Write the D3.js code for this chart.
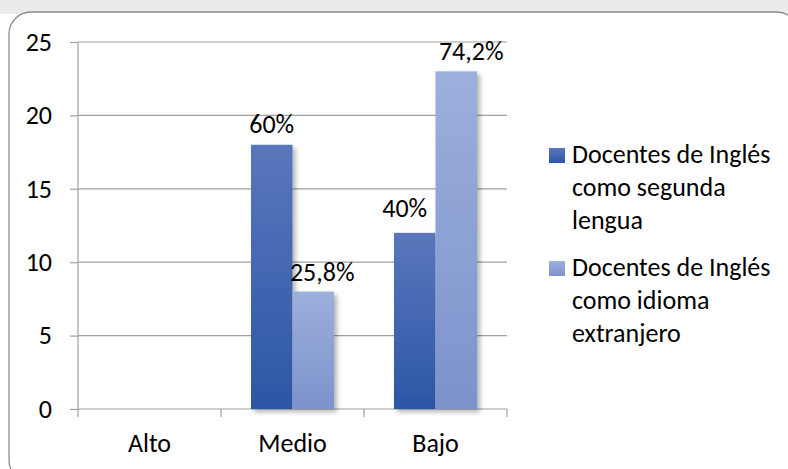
<!DOCTYPE html>
<html><head><meta charset="utf-8">
<script src="https://cdn.jsdelivr.net/npm/d3@7"></script>
<style>
html,body{margin:0;padding:0;background:#fff;}
text{font-family:Carlito,Calibri,Lato,"Open Sans",sans-serif;fill:#000;}
</style></head>
<body><svg id="c" width="788" height="469"></svg>
<script>
const categories = ["Alto", "Medio", "Bajo"];
const seriesNames = ["Docentes de Inglés como segunda lengua", "Docentes de Inglés como idioma extranjero"];
const segundaLengua = [0, 18, 12];
const idiomaExtranjero = [0, 8, 23];
const labelsSegunda = ["", "60%", "40%"];
const labelsExtranjero = ["", "25,8%", "74,2%"];
const yTicks = [0, 5, 10, 15, 20, 25];
const legendLines = [["Docentes de Inglés", "como segunda", "lengua"], ["Docentes de Inglés", "como idioma", "extranjero"]];

const FS = 26;
const svg = d3.select("#c");
const defs = svg.append("defs");
const g1 = defs.append("linearGradient").attr("id","g1").attr("x1",0).attr("y1",0).attr("x2",0).attr("y2",1);
g1.append("stop").attr("offset","0%").attr("stop-color","#5a77bb");
g1.append("stop").attr("offset","100%").attr("stop-color","#2c56a6");
const g2 = defs.append("linearGradient").attr("id","g2").attr("x1",0).attr("y1",0).attr("x2",0).attr("y2",1);
g2.append("stop").attr("offset","0%").attr("stop-color","#9bb0dc");
g2.append("stop").attr("offset","100%").attr("stop-color","#7d92cb");
const f = defs.append("filter").attr("id","sh").attr("x","-20%").attr("y","-20%").attr("width","150%").attr("height","150%");
f.append("feDropShadow").attr("dx",3).attr("dy",3).attr("stdDeviation",2.5).attr("flood-color","#000").attr("flood-opacity",0.3);

// background band
svg.append("rect").attr("x",0).attr("y",0).attr("width",788).attr("height",14).attr("fill","#ebebeb");
svg.append("rect").attr("x",9).attr("y",12).attr("width",790).attr("height",470).attr("rx",22)
  .attr("fill","#fff").attr("stroke","#8c8c8c").attr("stroke-width",1.3);

const pLeft = 78, pRight = 507, pTop = 42, pBottom = 409;
const x = d3.scaleBand().domain(categories).range([pLeft, pRight]).paddingInner(0).paddingOuter(0);
const y = d3.scaleLinear().domain([0, 25]).range([pBottom, pTop]);

// gridlines
svg.append("g").selectAll("line").data(yTicks.filter(d=>d>0)).join("line")
  .attr("x1", pLeft).attr("x2", pRight).attr("y1", d=>y(d)).attr("y2", d=>y(d))
  .attr("stroke","#a0a0a0").attr("stroke-width",1.2);

// y axis
const ya = svg.append("g").attr("transform",`translate(${pLeft},0)`)
  .call(d3.axisLeft(y).tickValues(yTicks).tickSize(8).tickPadding(18).tickFormat(d3.format("d")));
ya.select(".domain").attr("stroke","#a0a0a0").attr("stroke-width",1.2).attr("d",`M0,${pBottom}V${pTop}`);
ya.selectAll(".tick line").attr("stroke","#a0a0a0").attr("stroke-width",1.2);
ya.selectAll(".tick text").attr("font-size",FS).attr("font-family","Carlito,Calibri,Lato,sans-serif").attr("fill","#000");

// x axis
const xa = svg.append("g").attr("transform",`translate(0,${pBottom})`)
  .call(d3.axisBottom(x).tickSize(0).tickPadding(25));
xa.select(".domain").attr("stroke","#a0a0a0").attr("stroke-width",1.2).attr("d",`M${pLeft},0H${pRight}`);
xa.selectAll(".tick text").attr("font-size",FS).attr("font-family","Carlito,Calibri,Lato,sans-serif").attr("fill","#000");
svg.append("g").selectAll("line").data(categories.map(c=>x(c)).concat([pRight])).join("line")
  .attr("x1",d=>d).attr("x2",d=>d).attr("y1",pBottom).attr("y2",pBottom+8)
  .attr("stroke","#a0a0a0").attr("stroke-width",1.2);

// bars
const bw = 41.5, gap = (x.bandwidth() - 2*bw)/2;
const series = [segundaLengua, idiomaExtranjero];
const grads = ["url(#g1)","url(#g2)"];
const labels = [labelsSegunda, labelsExtranjero];
const nudge = [[[0,0],[0,-12],[-10,-16]],[[0,0],[9,-11],[15,-11]]];
series.forEach((s, si) => {
  const dat = s.map((v,i)=>({v,c:categories[i],i})).filter(d=>d.v>0);
  svg.append("g").selectAll("rect").data(dat).join("rect")
    .attr("x", d=>x(d.c)+gap+si*bw).attr("width", bw)
    .attr("y", d=>y(d.v)).attr("height", d=>y(0)-y(d.v))
    .attr("fill", grads[si]).attr("filter","url(#sh)");
  svg.append("g").selectAll("text").data(dat).join("text")
    .attr("x", d=>x(d.c)+gap+si*bw+bw/2 + nudge[si][d.i][0])
    .attr("y", d=>y(d.v) + nudge[si][d.i][1])
    .attr("text-anchor","middle").attr("font-size",FS)
    .text(d=>labels[si][d.i]);
});

// legend
const lg = svg.append("g");
const ly = [163, 276];
legendLines.forEach((lines, i) => {
  lg.append("rect").attr("x",549).attr("y",ly[i]-15).attr("width",16).attr("height",15).attr("fill",grads[i]);
  lines.forEach((t, j) => {
    lg.append("text").attr("x",572).attr("y",ly[i]+j*33).attr("font-size",FS).text(t);
  });
});
</script></body></html>
